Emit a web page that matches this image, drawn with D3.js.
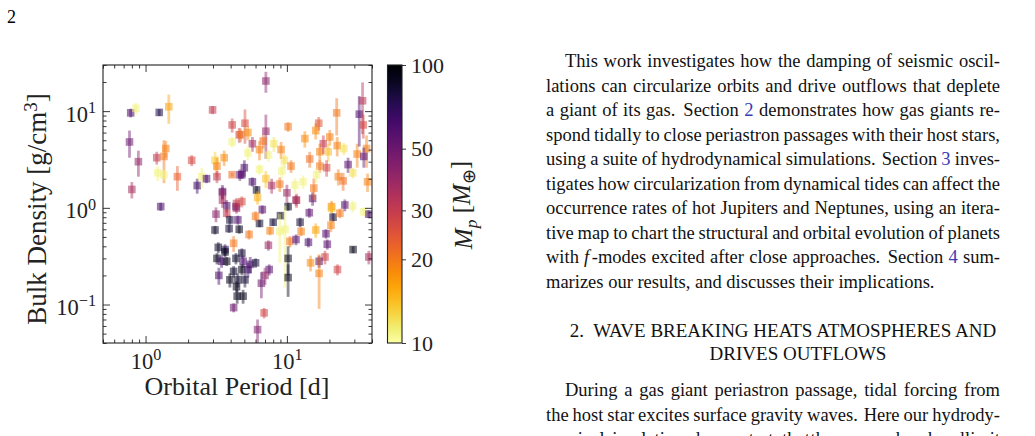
<!DOCTYPE html>
<html>
<head>
<meta charset="utf-8">
<script src="https://cdn.jsdelivr.net/npm/d3@7"></script>
<style>
  html, body { margin: 0; padding: 0; background: #fff; }
  svg { display: block; }
</style>
</head>
<body>
<svg id="page" width="1035" height="436"></svg>
<script>
// orbital period [d]
const period = [0.785, 0.855, 1.25, 1.46, 0.77, 0.89, 0.80, 1.2, 1.35, 1.39, 1.22, 1.35, 1.68, 2.12, 2.98, 2.32, 2.5, 2.7, 3.1, 3.2,
  3.2, 3.6, 4.1, 4.1, 4.1, 3.5, 3.5, 3.75, 4.36, 4.6, 4.65, 7.1, 5.05, 4.7, 5.3, 7.1, 5.7, 6.8, 6.4, 5.3,
  7.4, 8.1, 9.1, 10.2, 9.6, 9.2, 5.0, 4.8, 6.4, 7.1, 10.7, 7.8, 8.9, 5.7, 6.1, 6.2, 11.4, 13.0, 13.4, 16.0,
  16.8, 17.1, 14.5, 18.1, 20.1, 19.6, 17.1, 19.1, 16.2, 22.5, 22.7, 25.3, 23.1, 25, 27.1, 29.2, 31.4, 32.5, 34.3, 34.7,
  36.6, 35, 37.2, 10.0, 11.7, 15.2, 15.5, 10.2, 20.7, 25.7, 29.2, 1.28, 3.5, 3.15, 3.75, 3.95, 3.1, 3.9, 4.2, 3.27,
  3.65, 3.2, 3.45, 3.75, 4.2, 3.3, 3.95, 4.4, 4.45, 4.2, 4.4, 4.8, 4.4, 4.6, 4.5, 5.4, 3.65, 4.36, 4.8, 4.9,
  4.8, 4.5, 5.05, 4.9, 5.3, 5.5, 6.0, 7.5, 7.0, 6.6, 6.9, 6.2, 6.4, 6.7, 6.0, 7.4, 7.6, 8.0, 9.0, 8.9,
  9.7, 10.5, 11.6, 11.6, 12.4, 12.6, 14.2, 14.4, 16, 20.7, 21.2, 20.5, 23.7, 35, 38, 18.9, 19.3, 18.6, 16.9, 14.7,
  16.9, 22.8, 29.4, 38, 10.2, 10.2];

// bulk density [g/cm^3]
const density = [9.6, 10.7, 9.7, 11.1, 4.8, 3.0, 1.55, 3.3, 3.4, 4.1, 2.3, 2.2, 2.1, 3.1, 10.3, 1.7, 2.1, 2.0, 3.1, 2.7,
  2.1, 3.3, 7.2, 4.8, 2.2, 1.47, 1.2, 1.05, 1.03, 5.7, 2.2, 20.5, 7.5, 5.7, 6.0, 6.2, 4.6, 4.9, 4.0, 3.7,
  3.5, 4.6, 4.0, 6.9, 3.1, 2.4, 2.6, 2.2, 2.5, 2.0, 2.7, 1.7, 1.76, 1.86, 1.53, 1.28, 1.72, 1.86, 5.2, 6.3,
  7.5, 3.8, 3.2, 4.6, 5.4, 3.8, 2.7, 2.6, 2.2, 9.6, 4.4, 4.1, 2.1, 1.9, 2.8, 2.3, 3.6, 9.3, 12.8, 7.2,
  4.1, 3.4, 1.86, 1.43, 1.2, 1.25, 1.6, 1.03, 1.03, 1.07, 1.04, 1.03, 1.43, 0.86, 0.88, 0.75, 0.59, 0.61, 0.43, 0.39,
  0.37, 0.30, 0.28, 0.28, 0.22, 0.20, 0.18, 0.153, 0.122, 0.093, 1.11, 1.16, 0.99, 0.60, 0.75, 0.53, 0.35, 0.30, 0.34, 0.28,
  0.23, 0.18, 0.18, 0.122, 0.23, 0.26, 0.27, 0.23, 0.20, 0.166, 0.082, 0.055, 0.69, 0.96, 0.82, 0.41, 0.58, 0.71, 0.83, 0.57,
  0.60, 0.45, 0.47, 1.2, 0.71, 0.57, 0.44, 0.89, 0.59, 0.99, 0.80, 0.66, 0.88, 0.91, 0.86, 0.54, 0.42, 0.31, 0.28, 0.27,
  0.21, 0.23, 0.37, 0.31, 0.30, 0.19];

// 1-sigma density uncertainty [g/cm^3]
const densityErr = [1.0, 1.5, 0.8, 3.7, 1.5, 0.9, 0.3, 0.5, 1.6, 0.8, 0.4, 0.3, 0.6, 0.4, 1.0, 0.3, 0.5, 0.2, 0.7, 0.6,
  0.3, 0.6, 1.2, 0.6, 0.1, 0.25, 0.2, 0.15, 0.1, 1.0, 0.3, 5, 2.9, 0.9, 1.0, 3, 0.8, 0.8, 0.9, 0.6,
  0.5, 0.8, 0.8, 0.8, 0.5, 0.4, 0.5, 0.2, 0.3, 0.4, 0.4, 0.3, 0.3, 0.2, 0.15, 0.2, 0.3, 0.3, 1.0, 1.2,
  1.2, 0.8, 0.6, 1.0, 1.0, 0.8, 0.4, 0.5, 0.4, 4, 1.0, 0.6, 0.4, 0.4, 0.5, 0.3, 1.0, 5, 7, 2,
  1.5, 0.8, 0.4, 0.3, 0.2, 0.2, 0.4, 0.1, 0.15, 0.15, 0.15, 0.1, 0.2, 0.15, 0.1, 0.08, 0.06, 0.06, 0.08, 0.05,
  0.05, 0.04, 0.04, 0.03, 0.03, 0.04, 0.03, 0.02, 0.02, 0.01, 0.15, 0.15, 0.12, 0.06, 0.08, 0.06, 0.04, 0.04, 0.04, 0.04,
  0.03, 0.03, 0.03, 0.02, 0.04, 0.05, 0.03, 0.03, 0.04, 0.05, 0.01, 0.015, 0.06, 0.1, 0.1, 0.05, 0.06, 0.06, 0.06, 0.3,
  0.45, 0.06, 0.06, 0.15, 0.08, 0.06, 0.05, 0.1, 0.1, 0.1, 0.08, 0.1, 0.1, 0.1, 0.08, 0.06, 0.05, 0.05, 0.04, 0.05,
  0.12, 0.03, 0.03, 0.05, 0.1, 0.07];

// planet mass [M_earth]
const mass = [60, 11, 75, 16, 50, 40, 35, 30, 20, 19, 11, 11, 23, 27, 30, 65, 11, 60, 13, 19,
  30, 18, 28, 11, 21, 60, 35, 55, 60, 28, 55, 42, 26, 20, 18, 40, 36, 21, 19, 11,
  11, 12, 19, 20, 12, 11, 60, 55, 11, 14, 20, 36, 20, 60, 85, 15, 11, 11, 18, 18,
  24, 19, 21, 30, 19, 14, 20, 27, 11, 20, 19, 12, 19, 21, 55, 12, 19, 60, 32, 27,
  19, 55, 19, 38, 27, 55, 20, 90, 19, 55, 11, 60, 40, 42, 30, 80, 85, 80, 20, 85,
  70, 90, 65, 90, 85, 60, 90, 90, 90, 50, 30, 27, 36, 90, 60, 20, 90, 85, 80, 60,
  90, 85, 80, 90, 65, 60, 80, 55, 40, 50, 28, 45, 85, 55, 20, 38, 19, 80, 85, 11,
  11, 20, 55, 38, 80, 19, 60, 55, 16, 14, 80, 19, 20, 11, 60, 55, 55, 28, 55, 18,
  19, 28, 90, 35, 90, 90];

const xMajor = [1, 10];
const xMinor = [0.5, 0.6, 0.7, 0.8, 0.9, 2, 3, 4, 5, 6, 7, 8, 9, 20, 30, 40];
const yMajor = [0.1, 1, 10];
const yMinor = [0.04, 0.05, 0.06, 0.07, 0.08, 0.09, 0.2, 0.3, 0.4, 0.5, 0.6, 0.7, 0.8, 0.9, 2, 3, 4, 5, 6, 7, 8, 9, 20, 30];
const massTicks = [10, 20, 30, 50, 100];

const bodyLines = [
  "This work investigates how the damping of seismic oscil-",
  "lations can circularize orbits and drive outflows that deplete",
  "a giant of its gas.  Section {2} demonstrates how gas giants re-",
  "spond tidally to close periastron passages with their host stars,",
  "using a suite of hydrodynamical simulations.  Section {3} inves-",
  "tigates how circularization from dynamical tides can affect the",
  "occurrence rates of hot Jupiters and Neptunes, using an itera-",
  "tive map to chart the structural and orbital evolution of planets",
  "with *f* -modes excited after close approaches.  Section {4} sum-",
  "marizes our results, and discusses their implications."
];
const headingLines = ["2.  WAVE BREAKING HEATS ATMOSPHERES AND", "DRIVES OUTFLOWS"];
const body2Lines = [
  "During a gas giant periastron passage, tidal forcing from",
  "the host star excites surface gravity waves.  Here our hydrody-",
  "namical simulations demonstrate that these waves break and limit"
];

const serif = "'Liberation Serif', 'Times New Roman', serif";
const linkBlue = "#3b3bb3";

const svg = d3.select("#page");
svg.append("rect").attr("width", 1035).attr("height", 436).attr("fill", "#fff");

// page number
svg.append("text").attr("x", 7).attr("y", 23)
  .attr("font-family", serif).attr("font-size", 18).text("2");

// ---------- chart ----------
const plot = { left: 103, right: 372, top: 65, bottom: 343 };

const x = d3.scaleLog().domain([0.5, 40]).range([plot.left, plot.right]);
const y = d3.scaleLog().domain([0.04, 30]).range([plot.bottom, plot.top]);
const color = d3.scaleSequentialLog(t => d3.interpolateInferno(1 - t)).domain([10, 100]);

const chart = svg.append("g");

svg.append("clipPath").attr("id", "plotClip")
  .append("rect").attr("x", plot.left).attr("y", plot.top)
  .attr("width", plot.right - plot.left).attr("height", plot.bottom - plot.top);

const pts = period.map((p, i) => ({ p, rho: density[i], err: densityErr[i], m: mass[i] }));

const marks = chart.append("g").attr("clip-path", "url(#plotClip)");

const pt = marks.selectAll("g.pt")
  .data(pts)
  .enter()
  .append("g")
  .attr("class", "pt");

// error bars
pt.append("line")
  .attr("x1", d => x(d.p)).attr("x2", d => x(d.p))
  .attr("y1", d => y(Math.max(d.rho - d.err, 0.01)))
  .attr("y2", d => y(d.rho + d.err))
  .attr("stroke", d => color(d.m))
  .attr("stroke-opacity", 0.45)
  .attr("stroke-width", 2.8);

// square markers
pt.append("rect")
  .attr("x", d => x(d.p) - 3.8)
  .attr("y", d => y(d.rho) - 3.8)
  .attr("width", 7.6).attr("height", 7.6)
  .attr("fill", d => color(d.m))
  .attr("fill-opacity", 0.55);

// axes with inward ticks on all four sides
function expLabel(sel) {
  sel.each(function (d) {
    const t = d3.select(this);
    const e = Math.round(Math.log10(d));
    t.text("10");
    t.append("tspan").attr("dy", "-0.55em").attr("font-size", "0.72em")
      .text(e < 0 ? "\u2212" + (-e) : e);
  });
}

function styleAxis(g) {
  g.select(".domain").remove();
  g.selectAll("line").attr("stroke", "#222").attr("stroke-width", 0.9);
  g.selectAll("text").attr("font-family", serif).attr("font-size", 22.5).attr("fill", "#222");
}

chart.append("g")
  .attr("transform", `translate(0,${plot.bottom})`)
  .call(d3.axisBottom(x).tickValues(xMajor).tickSizeInner(-7).tickSizeOuter(0).tickPadding(5).tickFormat(""))
  .call(styleAxis)
  .call(g => g.selectAll("text").attr("dy", "0.95em").call(expLabel));

chart.append("g")
  .attr("transform", `translate(0,${plot.bottom})`)
  .call(d3.axisBottom(x).tickValues(xMinor).tickSizeInner(-3.5).tickSizeOuter(0).tickFormat(""))
  .call(styleAxis);

chart.append("g")
  .attr("transform", `translate(0,${plot.top})`)
  .call(d3.axisTop(x).tickValues(xMajor).tickSizeInner(-7).tickSizeOuter(0).tickFormat(""))
  .call(styleAxis);

chart.append("g")
  .attr("transform", `translate(0,${plot.top})`)
  .call(d3.axisTop(x).tickValues(xMinor).tickSizeInner(-3.5).tickSizeOuter(0).tickFormat(""))
  .call(styleAxis);

chart.append("g")
  .attr("transform", `translate(${plot.left},0)`)
  .call(d3.axisLeft(y).tickValues(yMajor).tickSizeInner(-7).tickSizeOuter(0).tickPadding(7).tickFormat(""))
  .call(styleAxis)
  .call(g => g.selectAll("text").attr("dy", "0.45em").call(expLabel));

chart.append("g")
  .attr("transform", `translate(${plot.left},0)`)
  .call(d3.axisLeft(y).tickValues(yMinor).tickSizeInner(-3.5).tickSizeOuter(0).tickFormat(""))
  .call(styleAxis);

chart.append("g")
  .attr("transform", `translate(${plot.right},0)`)
  .call(d3.axisRight(y).tickValues(yMajor).tickSizeInner(-7).tickSizeOuter(0).tickFormat(""))
  .call(styleAxis);

chart.append("g")
  .attr("transform", `translate(${plot.right},0)`)
  .call(d3.axisRight(y).tickValues(yMinor).tickSizeInner(-3.5).tickSizeOuter(0).tickFormat(""))
  .call(styleAxis);

chart.append("rect")
  .attr("x", plot.left).attr("y", plot.top)
  .attr("width", plot.right - plot.left).attr("height", plot.bottom - plot.top)
  .attr("fill", "none").attr("stroke", "#222").attr("stroke-width", 1.1);

// axis titles
chart.append("text")
  .attr("x", 237).attr("y", 395)
  .attr("text-anchor", "middle")
  .attr("font-family", serif).attr("font-size", 26).attr("fill", "#222")
  .text("Orbital Period [d]");

const ylab = chart.append("text")
  .attr("transform", `translate(46,209) rotate(-90)`)
  .attr("text-anchor", "middle")
  .attr("font-family", serif).attr("font-size", 27).attr("fill", "#222");
ylab.append("tspan").text("Bulk Density [g/cm");
ylab.append("tspan").attr("dy", "-0.5em").attr("font-size", "0.7em").text("3");
ylab.append("tspan").attr("dy", "0.35em").text("]");

// ---------- colorbar ----------
const cb = { x: 387.5, w: 14.5 };
const cy = d3.scaleLog().domain([10, 100]).range([plot.bottom, plot.top]);

const grad = svg.append("defs").append("linearGradient")
  .attr("id", "cbGrad").attr("x1", 0).attr("y1", 1).attr("x2", 0).attr("y2", 0);
grad.selectAll("stop")
  .data(d3.range(0, 1.0001, 0.05))
  .enter().append("stop")
  .attr("offset", d => d)
  .attr("stop-color", d => d3.interpolateInferno(1 - d));

chart.append("rect")
  .attr("x", cb.x).attr("y", plot.top)
  .attr("width", cb.w).attr("height", plot.bottom - plot.top)
  .attr("fill", "url(#cbGrad)")
  .attr("stroke", "#222").attr("stroke-width", 1.1);

chart.append("g")
  .attr("transform", `translate(${cb.x + cb.w},0)`)
  .call(d3.axisRight(cy).tickValues(massTicks).tickSizeInner(4).tickSizeOuter(0).tickPadding(5).tickFormat(d3.format("d")))
  .call(styleAxis)
  .call(g => g.selectAll("text").attr("font-size", 22));

const clab = chart.append("text")
  .attr("transform", `translate(472,205) rotate(-90)`)
  .attr("text-anchor", "middle")
  .attr("font-family", serif).attr("font-size", 25).attr("fill", "#222");
clab.append("tspan").attr("font-style", "italic").text("M");
clab.append("tspan").attr("dy", "0.3em").attr("font-size", "0.7em").attr("font-style", "italic").text("p");
clab.append("tspan").attr("dy", "-0.3em").text(" [");
clab.append("tspan").attr("font-style", "italic").text("M");
clab.append("tspan").attr("dy", "0.3em").attr("font-size", "0.7em").text("\u2295");
clab.append("tspan").attr("dy", "-0.3em").text("]");

// ---------- text column ----------
const col = { left: 546, right: 1000, indent: 19 };
const bodySize = 18.5;
const textG = svg.append("g").attr("font-family", serif).attr("font-size", bodySize).attr("fill", "#111");

function makeWord(yb, word) {
  const t = textG.append("text").attr("y", yb);
  word.split(/(\{[^}]*\}|\*[^*]*\*)/).filter(s => s).forEach(s => {
    if (s[0] === "{") t.append("tspan").attr("fill", linkBlue).text(s.slice(1, -1));
    else if (s[0] === "*") t.append("tspan").attr("font-style", "italic").text(s.slice(1, -1));
    else t.append("tspan").text(s);
  });
  return t;
}

const spaceW = (() => {
  const t = textG.append("text").text("a a");
  const t2 = textG.append("text").text("aa");
  const w = t.node().getComputedTextLength() - t2.node().getComputedTextLength();
  t.remove(); t2.remove();
  return w;
})();

function setLine(str, yb, x0, x1, justify) {
  // "*f* -modes" keeps a thin gap after the italic f
  const words = str.split(/ +/);
  const gaps = str.split(/(?<=\S)( +)(?=\S)/).filter(s => /^ +$/.test(s));
  const weights = gaps.map((s, i) => words[i] === "*f*" ? 0 : (s.length > 1 ? 1.45 : 1));
  const nodes = words.map(w => makeWord(yb, w));
  const widths = nodes.map(n => n.node().getComputedTextLength());
  const total = d3.sum(widths) + 2.5 * weights.filter(w => w === 0).length;
  const wsum = d3.sum(weights);
  const unit = justify && wsum > 0 ? (x1 - x0 - total) / wsum : spaceW;
  let cx = x0;
  nodes.forEach((n, i) => {
    n.attr("x", cx);
    if (i < weights.length) cx += widths[i] + (weights[i] === 0 ? 2.5 : weights[i] * unit);
  });
}

const lineGap = 24.5;
bodyLines.forEach((s, i) => {
  const last = i === bodyLines.length - 1;
  setLine(s, 67 + i * lineGap, col.left + (i === 0 ? col.indent : 0), col.right, !last);
});

headingLines.forEach((s, i) => {
  textG.append("text")
    .attr("x", i === 0 ? 783 : 798).attr("y", 337 + i * 22.5)
    .attr("text-anchor", "middle")
    .attr("font-size", 19)
    .attr("xml:space", "preserve")
    .text(s);
});

body2Lines.forEach((s, i) => {
  setLine(s, 396 + i * lineGap, col.left + (i === 0 ? col.indent : 0), col.right, true);
});
</script>
</body>
</html>
